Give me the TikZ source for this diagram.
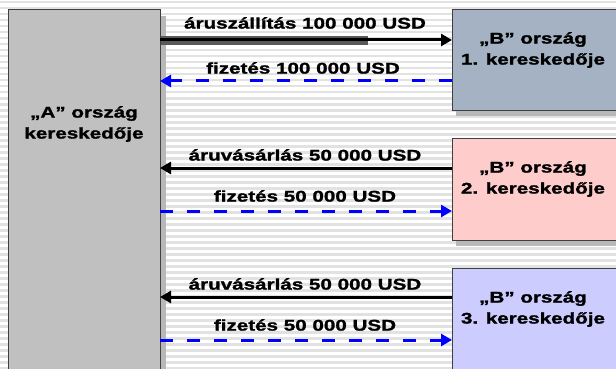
\documentclass[tikz,border=0pt]{standalone}
\usepackage{fontspec}
\setmainfont{Liberation Sans}
\newfontfamily\heavyfont[FakeStretch=1.33,FakeBold=1.5]{Liberation Sans Bold}
\usetikzlibrary{arrows.meta}
\definecolor{boxA}{HTML}{C0C0C0}
\definecolor{boxB1}{HTML}{A4B2C3}
\definecolor{boxB2}{HTML}{FFCCCC}
\definecolor{boxB3}{HTML}{CCCCFF}
\definecolor{stripe}{HTML}{E2E2E2}
\definecolor{shade}{HTML}{B8B8B8}
\definecolor{payblue}{HTML}{0000FF}
\tikzset{
  party/.style={draw=black!75, line width=1pt, inner sep=0pt, outer sep=0pt},
  lbl/.style={font=\heavyfont\fontsize{15.5}{18}\selectfont, inner sep=0pt},
  goods/.style={draw=black, line width=3pt, -{Triangle[length=11pt,width=12pt]}},
  pay/.style={draw=payblue, line width=3pt, dash pattern=on 13pt off 14pt, -{Triangle[length=11pt,width=12pt]}},
  shadowstrip/.style={fill=shade}
}
\begin{document}
\begin{tikzpicture}[x=1pt,y=-1pt]
\useasboundingbox (0,0) rectangle (616,369);
\fill[white] (0,0) rectangle (616,369);
\foreach \i in {0,...,61} {
  \fill[stripe] (0,{\i*6+1}) rectangle (616,{\i*6+3.5});
}
% shadows
\fill[shadowstrip] (160,16) rectangle (166,369);
\fill[shadowstrip] (456,110) rectangle (616,116);
\fill[shadowstrip] (456,240) rectangle (616,246);
% boxes
\node[party, fill=boxA, minimum width=152pt, minimum height=362pt, anchor=north west] (A) at (8,10) {};
\node[party, fill=boxB1, minimum width=170pt, minimum height=100pt, anchor=north west] (B1) at (452,10) {};
\node[party, fill=boxB2, minimum width=170pt, minimum height=102pt, anchor=north west] (B2) at (452,138) {};
\node[party, fill=boxB3, minimum width=170pt, minimum height=104pt, anchor=north west] (B3) at (452,268) {};
% texts
\node[lbl, align=center] (At) at (84,124) {„A” ország\\[3pt]kereskedője};
\node[lbl, align=center] (B1t) at (533,50) {„B” ország\\[3pt]1. kereskedője};
\node[lbl, align=center] (B2t) at (533,179) {„B” ország\\[3pt]2. kereskedője};
\node[lbl, align=center] (B3t) at (533,309) {„B” ország\\[3pt]3. kereskedője};
% arrows
\fill[black!65] (161,36) rectangle (368,45);
\draw[goods] (A.east |- 0,40) -- (B1.west |- 0,40);
\draw[pay] (B1.west |- 0,81) -- (A.east |- 0,81);
\draw[goods] (B2.west |- 0,168) -- (A.east |- 0,168);
\draw[pay] (A.east |- 0,211) -- (B2.west |- 0,211);
\draw[goods] (B3.west |- 0,297) -- (A.east |- 0,297);
\draw[pay] (A.east |- 0,340) -- (B3.west |- 0,340);
% labels
\node[lbl] (l1) at (305,23) {áruszállítás 100 000 USD};
\node[lbl] (l2) at (303,68) {fizetés 100 000 USD};
\node[lbl] (l3) at (305,155) {áruvásárlás 50 000 USD};
\node[lbl] (l4) at (305,196) {fizetés 50 000 USD};
\node[lbl] (l5) at (305,284) {áruvásárlás 50 000 USD};
\node[lbl] (l6) at (305,325) {fizetés 50 000 USD};
\end{tikzpicture}
\end{document}
